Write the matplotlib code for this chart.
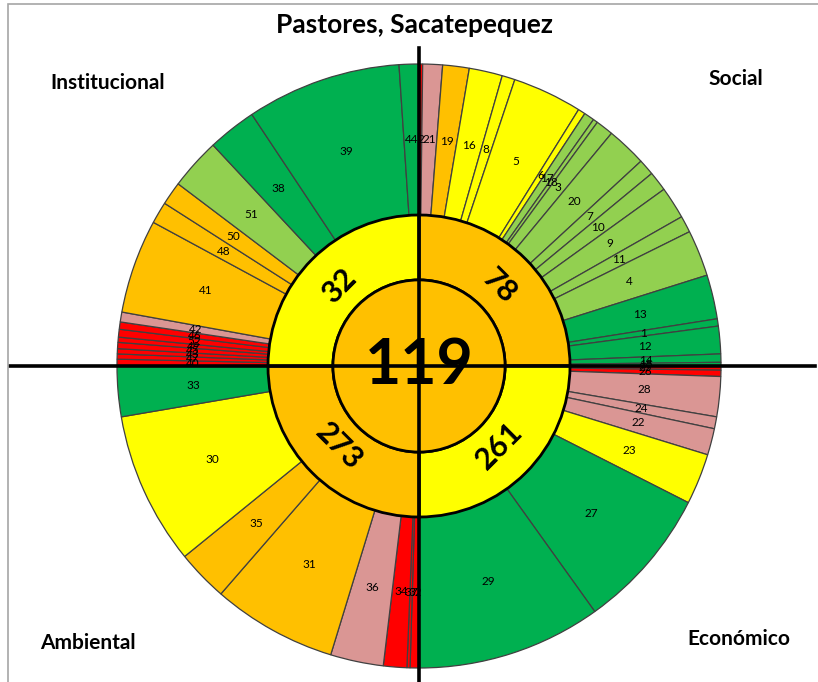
import matplotlib.pyplot as plt
from matplotlib.patches import Circle, Rectangle
import numpy as np

plt.rcParams['font.family'] = ['Lato', 'DejaVu Sans']

# ---------------- data ----------------
titulo = "Pastores, Sacatepequez"
dimensiones = ["Social", "Económico", "Ambiental", "Institucional"]
totales = [78, 261, 273, 32]
total_general = 119

# outer ring: indicator ids, relative size and level, clockwise inside each quadrant
social_ids = [2, 21, 19, 16, 8, 5, 6, 17, 18, 3, 20, 7, 10, 9, 11, 4, 13, 1, 12, 14, 15]
social_vals = [0.7, 3.8, 5.1, 6.4, 2.5, 13.4, 1.4, 2.0, 0.9, 3.4, 7.7, 3.1, 3.8, 6.2, 3.2, 8.9,
               8.5, 1.4, 5.3, 1.6, 0.7]
social_niv = ["rojo", "rosa", "naranja", "amarillo", "amarillo", "amarillo", "amarillo",
              "vclaro", "vclaro", "vclaro", "vclaro", "vclaro", "vclaro", "vclaro", "vclaro", "vclaro",
              "verde", "verde", "verde", "verde", "verde"]

economico_ids = [25, 26, 28, 24, 22, 23, 27, 29]
economico_vals = [0.8, 1.2, 7.7, 2.3, 5.1, 9.8, 27.5, 35.6]
economico_niv = ["rojo", "rojo", "rosa", "rosa", "rosa", "amarillo", "verde", "verde"]

ambiental_ids = [32, 37, 34, 36, 31, 35, 30, 33]
ambiental_vals = [1.7, 0.6, 4.5, 10.2, 24.0, 9.9, 29.4, 9.7]
ambiental_niv = ["rojo", "rojo", "rojo", "rosa", "naranja", "naranja", "amarillo", "verde"]

institucional_ids = [40, 47, 43, 45, 49, 52, 46, 42, 41, 48, 50, 51, 38, 39, 44]
institucional_vals = [1.3, 1.0, 1.0, 1.2, 1.0, 1.5, 1.4, 1.9, 18.1, 4.2, 4.5, 9.9, 9.4, 29.8, 3.8]
institucional_niv = ["rojo", "rojo", "rojo", "rojo", "rojo", "rojo", "rojo", "rosa",
                     "naranja", "naranja", "naranja", "vclaro", "verde", "verde", "verde"]

colores = {"rojo": "#FF0000", "rosa": "#DA9694", "naranja": "#FFC000",
           "amarillo": "#FFFF00", "vclaro": "#92D050", "verde": "#00B050"}
colores_medio = ["#FFC000", "#FFFF00", "#FFC000", "#FFFF00"]

ids = social_ids + economico_ids + ambiental_ids + institucional_ids
vals = social_vals + economico_vals + ambiental_vals + institucional_vals
niv = social_niv + economico_niv + ambiental_niv + institucional_niv

# ---------------- figure ----------------
fig = plt.figure(figsize=(8.18, 6.82), dpi=100)
fig.patches.append(Rectangle((8 / 818, -0.1), 1.2, 1.1 - 4 / 682, transform=fig.transFigure,
                             fill=False, edgecolor="#A6A6A6", lw=1.2))
ax = fig.add_axes([117 / 818, 14 / 682, 604 / 818, 604 / 682])

# outer ring
wedges, texts = ax.pie(vals, labels=[str(i) for i in ids], radius=1.0, startangle=90,
                       counterclock=False, colors=[colores[n] for n in niv],
                       labeldistance=0.75, textprops=dict(fontsize=8.5, color="black"),
                       wedgeprops=dict(width=0.5, edgecolor="#404040", linewidth=0.9))
for t in texts:
    t.set_ha("center")
    t.set_va("center")

# middle ring
mid, _ = ax.pie([1, 1, 1, 1], radius=0.5, startangle=90, counterclock=False,
                colors=colores_medio,
                wedgeprops=dict(width=0.215, edgecolor="black", linewidth=2.0))
for w, v in zip(mid, totales):
    ang = ((w.theta1 + w.theta2) / 2) % 360
    a = np.deg2rad(ang)
    rot = ((ang - 90) + 90) % 180 - 90
    ax.text(0.375 * np.cos(a), 0.375 * np.sin(a), str(v), rotation=rot,
            ha="center", va="center", fontsize=22, fontweight="bold", rotation_mode="anchor")

# center
ax.add_patch(Circle((0, 0), 0.285, facecolor="#FFC000", edgecolor="black", linewidth=2.0))
ax.text(0, 0, str(total_general), ha="center", va="center", fontsize=45, fontweight="bold")

# cross lines
ax.plot([0, 0], [-1.1, 1.053], color="black", lw=2.6, clip_on=False)
ax.plot([-1.354, 1.311], [0, 0], color="black", lw=2.6, clip_on=False)

ax.set_xlim(-1, 1)
ax.set_ylim(-1, 1)
ax.set_aspect("equal")
ax.axis("off")

# titles
fig.text(414 / 818, 1 - 25 / 682, titulo, ha="center", va="center", fontsize=19, fontweight="bold")
pos = {"Social": (736, 79), "Económico": (739, 639), "Ambiental": (88, 643), "Institucional": (108, 83)}
for d in dimensiones:
    x, y = pos[d]
    fig.text(x / 818, 1 - y / 682, d, ha="center", va="center", fontsize=15, fontweight="bold")

fig.savefig("out.png", dpi=100)
